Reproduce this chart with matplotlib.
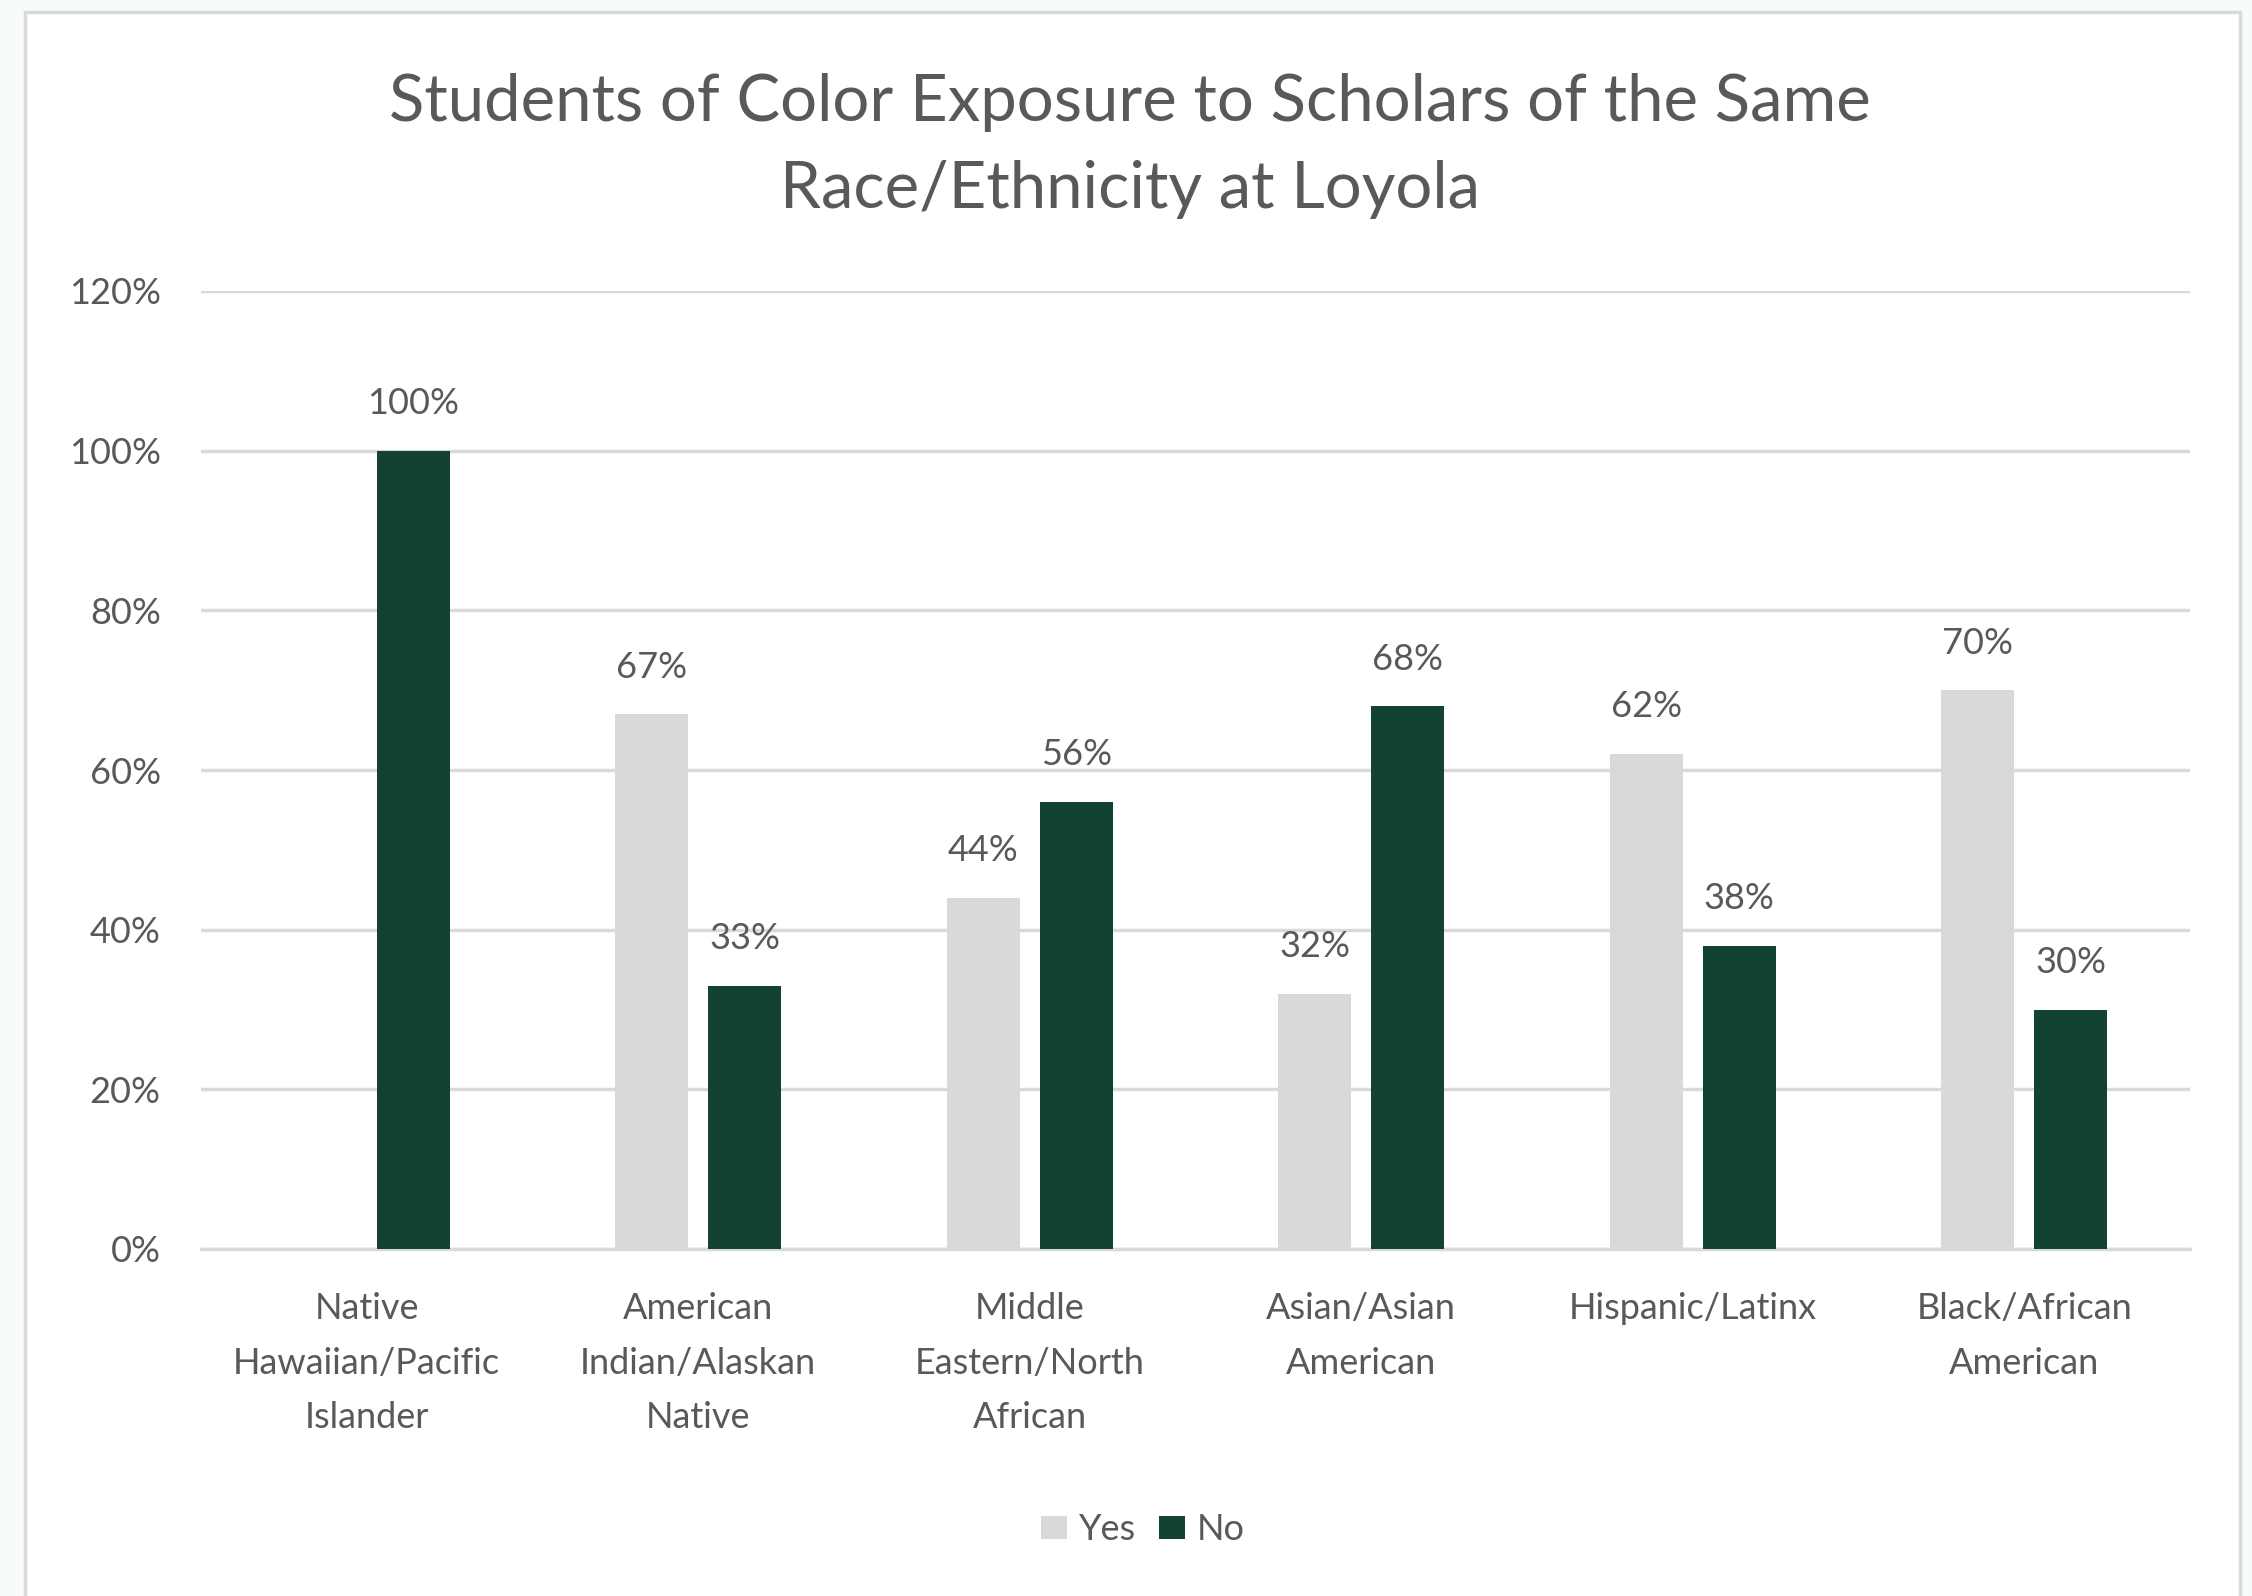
import matplotlib.pyplot as plt
from matplotlib.patches import Rectangle
import numpy as np

categories = ['Native\nHawaiian/Pacific\nIslander',
              'American\nIndian/Alaskan\nNative',
              'Middle\nEastern/North\nAfrican',
              'Asian/Asian\nAmerican',
              'Hispanic/Latinx',
              'Black/African\nAmerican']
yes_vals = [0, 67, 44, 32, 62, 70]
no_vals = [100, 33, 56, 68, 38, 30]
y_ticks = [0, 20, 40, 60, 80, 100, 120]

text_col = '#595959'
yes_col = '#d9d9d9'
no_col = '#134233'
grid_col = '#d9d9d9'

plt.rcParams['font.family'] = ['Lato', 'DejaVu Sans']

fig = plt.figure(figsize=(22.52, 15.96), dpi=100, facecolor='#f7fbfc')

# white chart area with grey frame
W, H = 2252, 1596
fig.patches.append(Rectangle((25 / W, -0.01), (2240 - 25) / W, 1 - 12 / H + 0.01,
                             transform=fig.transFigure, facecolor='white',
                             edgecolor='#d9d9d9', linewidth=2.5, zorder=-10))

ax = fig.add_axes([201 / W, 1 - 1249 / H, (2190 - 201) / W, (1249 - 291) / H])
ax.set_facecolor('none')

x = np.arange(len(categories))
off = 0.14
bw = 0.22
ax.bar(x - off, yes_vals, bw, color=yes_col, label='Yes', zorder=3)
ax.bar(x + off, no_vals, bw, color=no_col, label='No', zorder=3)

for xi, v in zip(x, yes_vals):
    if v > 0:
        ax.annotate(f'{v}%', (xi - off, v), xytext=(0, 22), textcoords='offset points',
                    ha='center', va='bottom', fontsize=26, color=text_col)
for xi, v in zip(x, no_vals):
    ax.annotate(f'{v}%', (xi + off, v), xytext=(0, 22), textcoords='offset points',
                ha='center', va='bottom', fontsize=26, color=text_col)

ax.set_xlim(-0.5, len(categories) - 0.5)
ax.set_ylim(0, 120)
ax.set_yticks(y_ticks)
ax.set_yticklabels([f'{t}%' for t in y_ticks])
ax.yaxis.grid(True, color=grid_col, linewidth=2.5, zorder=0)
ax.set_axisbelow(True)
for s in ['top', 'right', 'left']:
    ax.spines[s].set_visible(False)
ax.spines['bottom'].set_color(grid_col)
ax.spines['bottom'].set_linewidth(2.5)
ax.tick_params(axis='both', length=0, labelsize=26, colors=text_col)
ax.tick_params(axis='y', pad=29)
ax.tick_params(axis='x', pad=31)
ax.set_xticks(x)
ax.set_xticklabels(categories, linespacing=1.8)

fig.text(1130 / W, 1 - 146 / H,
         'Students of Color Exposure to Scholars of the Same\nRace/Ethnicity at Loyola',
         ha='center', va='center', fontsize=47, color=text_col, linespacing=1.6)

fig.legend(loc='center', bbox_to_anchor=(1143 / W, 1 - 1530 / H), ncol=2,
           frameon=False, fontsize=26, labelcolor=text_col,
           handlelength=0.72, handleheight=0.62, handletextpad=0.32,
           columnspacing=0.64)

fig.savefig('out.png', dpi=100, facecolor=fig.get_facecolor())
